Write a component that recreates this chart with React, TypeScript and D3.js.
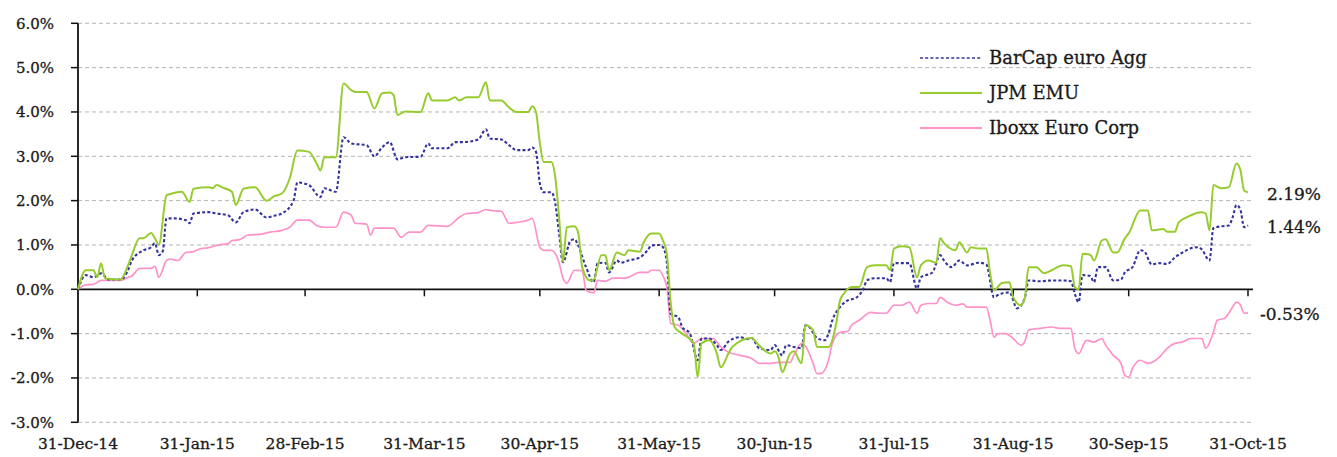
import React from "react";
import * as d3 from "d3";

const seriesNames = ["BarCap euro Agg", "JPM EMU", "Iboxx Euro Corp"];
const yTicks = [-3, -2, -1, 0, 1, 2, 3, 4, 5, 6];
const xTickDates = ["2014-12-31", "2015-01-31", "2015-02-28", "2015-03-31", "2015-04-30", "2015-05-31", "2015-06-30", "2015-07-31", "2015-08-31", "2015-09-30", "2015-10-31"];
const xTickLabels = ["31-Dec-14", "31-Jan-15", "28-Feb-15", "31-Mar-15", "30-Apr-15", "31-May-15", "30-Jun-15", "31-Jul-15", "31-Aug-15", "30-Sep-15", "31-Oct-15"];
const endLabels = ["1.44%", "2.19%", "-0.53%"];

const jpmEmu: [string, number][] = [
  ["2014-12-31",0],["2015-01-02",0.43],["2015-01-04",0.43],["2015-01-05",0.27],["2015-01-06",0.59],["2015-01-07",0.25],["2015-01-11",0.22],["2015-01-13",0.54],["2015-01-14",0.77],["2015-01-16",1.15],["2015-01-17",1.15],["2015-01-19",1.27],["2015-01-20",1.15],["2015-01-21",1.0],["2015-01-23",2.12],["2015-01-24",2.15],["2015-01-27",2.2],["2015-01-29",1.97],["2015-01-30",2.27],
  ["2015-02-03",2.3],["2015-02-04",2.28],["2015-02-05",2.35],["2015-02-07",2.28],["2015-02-09",2.2],["2015-02-10",1.9],["2015-02-12",2.27],["2015-02-15",2.3],["2015-02-18",2.0],["2015-02-20",2.1],["2015-02-22",2.16],["2015-02-24",2.5],["2015-02-26",3.13],
  ["2015-03-01",3.1],["2015-03-03",2.84],["2015-03-04",2.68],["2015-03-05",2.98],["2015-03-08",2.98],["2015-03-10",4.64],["2015-03-12",4.49],["2015-03-13",4.45],["2015-03-16",4.45],["2015-03-18",4.08],["2015-03-20",4.42],["2015-03-22",4.44],["2015-03-23",4.38],["2015-03-24",3.93],["2015-03-26",4.01],["2015-03-30",4.0],
  ["2015-04-01",4.42],["2015-04-02",4.26],["2015-04-06",4.26],["2015-04-08",4.33],["2015-04-09",4.26],["2015-04-11",4.33],["2015-04-14",4.33],["2015-04-16",4.67],["2015-04-17",4.26],["2015-04-20",4.26],["2015-04-22",4.1],["2015-04-24",4.0],["2015-04-27",4.0],["2015-04-28",4.13],["2015-04-29",4.0],["2015-04-30",3.3],
  ["2015-05-01",2.87],["2015-05-03",2.87],["2015-05-04",2.53],["2015-05-05",1.63],["2015-05-06",0.62],["2015-05-07",1.4],["2015-05-09",1.42],["2015-05-10",1.26],["2015-05-11",0.5],["2015-05-13",0.2],["2015-05-14",0.22],["2015-05-16",0.77],["2015-05-17",0.77],["2015-05-18",0.43],["2015-05-20",0.83],["2015-05-22",0.77],["2015-05-23",0.88],["2015-05-26",0.85],["2015-05-27",1.06],["2015-05-29",1.26],["2015-05-31",1.26],
  ["2015-06-01",1.1],["2015-06-02",0.8],["2015-06-03",-0.3],["2015-06-04",-0.85],["2015-06-06",-1.0],["2015-06-09",-1.22],["2015-06-10",-1.98],["2015-06-11",-1.22],["2015-06-13",-1.15],["2015-06-15",-1.45],["2015-06-16",-1.76],["2015-06-18",-1.45],["2015-06-19",-1.3],["2015-06-24",-1.1],["2015-06-26",-1.27],["2015-06-29",-1.45],["2015-06-30",-1.4],
  ["2015-07-01",-1.53],["2015-07-02",-1.87],["2015-07-04",-1.45],["2015-07-05",-1.4],["2015-07-07",-1.67],["2015-07-08",-0.81],["2015-07-10",-0.92],["2015-07-11",-1.3],["2015-07-14",-1.3],["2015-07-16",-0.77],["2015-07-17",-0.25],["2015-07-18",-0.1],["2015-07-20",0.05],["2015-07-22",0.05],["2015-07-24",0.5],["2015-07-26",0.54],["2015-07-29",0.54],["2015-07-30",0.43],["2015-07-31",0.92],
  ["2015-08-02",0.97],["2015-08-04",0.95],["2015-08-06",0.27],["2015-08-07",0.54],["2015-08-09",0.65],["2015-08-11",0.6],["2015-08-12",1.15],["2015-08-13",1.04],["2015-08-16",0.88],["2015-08-17",1.06],["2015-08-19",0.83],["2015-08-20",0.95],["2015-08-22",0.92],["2015-08-24",0.92],["2015-08-25",0.36],["2015-08-26",-0.02],["2015-08-28",0.14],["2015-08-30",0.16],["2015-08-31",-0.18],
  ["2015-09-02",-0.36],["2015-09-03",-0.2],["2015-09-04",0.5],["2015-09-06",0.5],["2015-09-08",0.36],["2015-09-10",0.43],["2015-09-13",0.54],["2015-09-15",0.52],["2015-09-16",0.05],["2015-09-17",0.0],["2015-09-18",0.8],["2015-09-20",0.78],["2015-09-21",0.65],["2015-09-23",1.1],["2015-09-24",1.13],["2015-09-26",0.83],["2015-09-27",0.83],["2015-09-29",1.15],["2015-09-30",1.26],
  ["2015-10-03",1.78],["2015-10-05",1.78],["2015-10-06",1.33],["2015-10-09",1.36],["2015-10-10",1.3],["2015-10-12",1.3],["2015-10-13",1.51],["2015-10-15",1.62],["2015-10-19",1.74],["2015-10-20",1.71],["2015-10-21",1.33],["2015-10-22",2.35],["2015-10-24",2.28],["2015-10-26",2.3],["2015-10-28",2.84],["2015-10-29",2.7],["2015-10-30",2.23],["2015-10-31",2.19]
];

const barcapEuroAgg: [string, number][] = [
  ["2014-12-31",0],["2015-01-02",0.32],["2015-01-04",0.27],["2015-01-06",0.36],["2015-01-08",0.22],["2015-01-11",0.22],["2015-01-13",0.43],["2015-01-14",0.65],["2015-01-17",0.88],["2015-01-19",0.95],["2015-01-20",1.04],["2015-01-21",0.77],["2015-01-22",0.85],["2015-01-23",1.6],["2015-01-25",1.6],["2015-01-28",1.56],["2015-01-29",1.49],["2015-01-30",1.71],
  ["2015-02-03",1.74],["2015-02-05",1.71],["2015-02-08",1.67],["2015-02-10",1.51],["2015-02-12",1.74],["2015-02-15",1.8],["2015-02-18",1.62],["2015-02-20",1.66],["2015-02-22",1.71],["2015-02-25",2.0],["2015-02-26",2.41],
  ["2015-03-01",2.35],["2015-03-04",2.08],["2015-03-05",2.28],["2015-03-08",2.2],["2015-03-10",3.43],["2015-03-12",3.29],["2015-03-16",3.25],["2015-03-18",3.0],["2015-03-20",3.2],["2015-03-22",3.32],["2015-03-24",2.93],["2015-03-26",2.98],["2015-03-30",2.99],
  ["2015-04-01",3.29],["2015-04-02",3.18],["2015-04-06",3.18],["2015-04-08",3.32],["2015-04-10",3.32],["2015-04-14",3.38],["2015-04-16",3.61],["2015-04-17",3.4],["2015-04-20",3.38],["2015-04-22",3.25],["2015-04-24",3.14],["2015-04-27",3.14],["2015-04-28",3.2],["2015-04-29",3.1],["2015-04-30",2.39],
  ["2015-05-01",2.19],["2015-05-03",2.19],["2015-05-04",1.94],["2015-05-05",1.26],["2015-05-06",0.61],["2015-05-08",1.1],["2015-05-09",1.13],["2015-05-10",0.98],["2015-05-12",0.5],["2015-05-14",0.16],["2015-05-15",0.59],["2015-05-17",0.6],["2015-05-18",0.38],["2015-05-20",0.65],["2015-05-21",0.6],["2015-05-23",0.65],["2015-05-26",0.72],["2015-05-28",0.88],["2015-05-29",0.99],["2015-05-31",1.0],
  ["2015-06-01",0.95],["2015-06-02",0.6],["2015-06-03",-0.55],["2015-06-05",-0.63],["2015-06-06",-0.85],["2015-06-08",-1.0],["2015-06-10",-1.6],["2015-06-11",-1.11],["2015-06-13",-1.11],["2015-06-15",-1.26],["2015-06-16",-1.37],["2015-06-18",-1.18],["2015-06-21",-1.08],["2015-06-23",-1.12],["2015-06-24",-1.1],["2015-06-26",-1.33],["2015-06-29",-1.37],["2015-06-30",-1.26],
  ["2015-07-02",-1.49],["2015-07-03",-1.26],["2015-07-05",-1.3],["2015-07-07",-1.33],["2015-07-08",-0.81],["2015-07-09",-0.85],["2015-07-11",-1.1],["2015-07-13",-1.15],["2015-07-14",-1.0],["2015-07-15",-0.7],["2015-07-17",-0.4],["2015-07-19",-0.25],["2015-07-21",-0.2],["2015-07-23",0.0],["2015-07-24",0.2],["2015-07-26",0.25],["2015-07-29",0.25],["2015-07-30",0.16],["2015-07-31",0.59],
  ["2015-08-04",0.59],["2015-08-06",0.02],["2015-08-07",0.27],["2015-08-10",0.38],["2015-08-12",0.77],["2015-08-13",0.65],["2015-08-15",0.5],["2015-08-17",0.65],["2015-08-19",0.54],["2015-08-22",0.6],["2015-08-24",0.56],["2015-08-26",-0.18],["2015-08-27",-0.13],["2015-08-30",-0.07],
  ["2015-09-01",-0.43],["2015-09-03",-0.2],["2015-09-04",0.2],["2015-09-07",0.18],["2015-09-10",0.2],["2015-09-13",0.2],["2015-09-15",0.18],["2015-09-16",-0.1],["2015-09-17",-0.29],["2015-09-18",0.32],["2015-09-20",0.3],["2015-09-21",0.16],["2015-09-22",0.5],["2015-09-24",0.5],["2015-09-26",0.2],["2015-09-28",0.22],["2015-09-29",0.38],
  ["2015-10-01",0.5],["2015-10-03",0.88],["2015-10-04",0.86],["2015-10-06",0.56],["2015-10-08",0.59],["2015-10-10",0.57],["2015-10-12",0.72],["2015-10-14",0.83],["2015-10-16",0.92],["2015-10-18",0.95],["2015-10-19",0.9],["2015-10-21",0.65],["2015-10-22",1.38],["2015-10-24",1.42],["2015-10-26",1.44],["2015-10-27",1.62],["2015-10-28",1.9],["2015-10-29",1.8],["2015-10-30",1.4],["2015-10-31",1.44]
];

const iboxxEuroCorp: [string, number][] = [
  ["2014-12-31",0],["2015-01-02",0.1],["2015-01-04",0.11],["2015-01-06",0.2],["2015-01-11",0.2],["2015-01-13",0.27],["2015-01-14",0.3],["2015-01-16",0.47],["2015-01-19",0.47],["2015-01-20",0.52],["2015-01-21",0.27],["2015-01-23",0.65],["2015-01-24",0.68],["2015-01-26",0.65],["2015-01-28",0.83],["2015-01-30",0.85],
  ["2015-02-01",0.92],["2015-02-03",0.94],["2015-02-05",0.99],["2015-02-08",1.03],["2015-02-09",1.1],["2015-02-11",1.12],["2015-02-13",1.22],["2015-02-17",1.25],["2015-02-19",1.29],["2015-02-22",1.33],["2015-02-24",1.4],["2015-02-26",1.56],
  ["2015-03-01",1.56],["2015-03-03",1.44],["2015-03-05",1.4],["2015-03-08",1.4],["2015-03-10",1.74],["2015-03-12",1.67],["2015-03-13",1.49],["2015-03-16",1.47],["2015-03-17",1.22],["2015-03-18",1.38],["2015-03-23",1.38],["2015-03-25",1.17],["2015-03-27",1.29],["2015-03-30",1.29],
  ["2015-04-01",1.44],["2015-04-06",1.42],["2015-04-09",1.62],["2015-04-11",1.71],["2015-04-14",1.73],["2015-04-16",1.8],["2015-04-17",1.78],["2015-04-20",1.76],["2015-04-22",1.49],["2015-04-24",1.51],["2015-04-27",1.56],["2015-04-28",1.6],["2015-04-30",0.95],
  ["2015-05-01",0.88],["2015-05-03",0.88],["2015-05-05",0.6],["2015-05-06",0.25],["2015-05-07",0.14],["2015-05-09",0.43],["2015-05-11",0.42],["2015-05-12",-0.02],["2015-05-14",-0.08],["2015-05-15",0.2],["2015-05-17",0.18],["2015-05-19",0.25],["2015-05-22",0.25],["2015-05-23",0.27],["2015-05-26",0.38],["2015-05-28",0.38],["2015-05-29",0.43],["2015-05-31",0.43],
  ["2015-06-01",0.3],["2015-06-02",0.05],["2015-06-03",-0.77],["2015-06-05",-0.81],["2015-06-07",-1.0],["2015-06-09",-1.22],["2015-06-11",-1.11],["2015-06-14",-1.11],["2015-06-16",-1.3],["2015-06-18",-1.42],["2015-06-21",-1.49],["2015-06-24",-1.56],["2015-06-26",-1.67],["2015-06-29",-1.67],
  ["2015-07-01",-1.65],["2015-07-04",-1.65],["2015-07-05",-1.49],["2015-07-07",-1.22],["2015-07-08",-1.28],["2015-07-10",-1.67],["2015-07-11",-1.9],["2015-07-12",-1.9],["2015-07-14",-1.6],["2015-07-15",-1.22],["2015-07-17",-0.97],["2015-07-19",-0.95],["2015-07-20",-0.81],["2015-07-22",-0.7],["2015-07-25",-0.52],["2015-07-27",-0.54],["2015-07-29",-0.54],["2015-07-31",-0.36],
  ["2015-08-02",-0.36],["2015-08-04",-0.29],["2015-08-06",-0.54],["2015-08-07",-0.36],["2015-08-09",-0.32],["2015-08-11",-0.32],["2015-08-12",-0.18],["2015-08-14",-0.3],["2015-08-16",-0.36],["2015-08-18",-0.33],["2015-08-19",-0.4],["2015-08-20",-0.4],["2015-08-24",-0.4],["2015-08-25",-0.7],["2015-08-26",-1.08],["2015-08-27",-1.0],["2015-08-29",-1.0],["2015-08-31",-1.11],
  ["2015-09-02",-1.26],["2015-09-03",-1.18],["2015-09-04",-0.92],["2015-09-07",-0.88],["2015-09-10",-0.85],["2015-09-12",-0.88],["2015-09-15",-0.88],["2015-09-16",-1.33],["2015-09-17",-1.45],["2015-09-19",-1.15],["2015-09-21",-1.19],["2015-09-23",-1.11],["2015-09-24",-1.26],["2015-09-26",-1.49],["2015-09-28",-1.67],["2015-09-29",-1.94],["2015-09-30",-1.98],
  ["2015-10-01",-1.78],["2015-10-03",-1.6],["2015-10-05",-1.67],["2015-10-08",-1.53],["2015-10-10",-1.33],["2015-10-12",-1.22],["2015-10-13",-1.2],["2015-10-14",-1.19],["2015-10-16",-1.11],["2015-10-19",-1.11],["2015-10-20",-1.33],["2015-10-22",-0.97],["2015-10-23",-0.7],["2015-10-25",-0.65],["2015-10-26",-0.54],["2015-10-27",-0.4],["2015-10-28",-0.29],["2015-10-29",-0.35],["2015-10-30",-0.54],["2015-10-31",-0.53]
];

const parse = d3.timeParse("%Y-%m-%d");
const FONT = "'DejaVu Serif', serif";
const TEXT = "#1a1a1a";

export default function App() {
  const W = 1337, H = 457;
  const x0 = 78, x1 = 1248, gridEnd = 1253;
  const x = d3.scaleTime()
    .domain([parse(xTickDates[0])!, parse(xTickDates[xTickDates.length - 1])!])
    .range([x0, x1]);
  const y = d3.scaleLinear().domain([-3, 6]).range([422.3, 23.3]);

  const line = d3.line<[string, number]>()
    .x((d) => x(parse(d[0])!))
    .y((d) => y(d[1]))
    .curve(d3.curveMonotoneX);

  const series = [
    { name: seriesNames[0], data: barcapEuroAgg, color: "#34349c", width: 2.1, dash: "3,2.2" },
    { name: seriesNames[1], data: jpmEmu, color: "#96cc2e", width: 2, dash: undefined },
    { name: seriesNames[2], data: iboxxEuroCorp, color: "#ff92c8", width: 1.7, dash: undefined },
  ];
  const drawOrder = [2, 0, 1];
  const legendYs = [58, 93, 128];
  const endLabelDx = [19, 19, 12];
  const endLabelY = [227, 194, 314];
  const textStyle = { stroke: TEXT, strokeWidth: 0.3 };

  return (
    <svg width={W} height={H} style={{ position: "absolute", left: 0, top: 0, background: "#fff" }}>
      <rect x={0} y={0} width={W} height={H} fill="#fff" />
      {yTicks.filter((t) => t !== 0).map((t) => (
        <line key={"g" + t} x1={x0} x2={gridEnd} y1={y(t)} y2={y(t)} stroke="#b4b4b4" strokeWidth={1} strokeDasharray="4,3" />
      ))}
      {yTicks.map((t) => (
        <g key={"yt" + t}>
          <line x1={x0 - 7} x2={x0} y1={y(t)} y2={y(t)} stroke="#111" strokeWidth={1.5} />
          <text x={54} y={y(t)} dy="0.35em" textAnchor="end" fontFamily={FONT} fontSize={15} fill={TEXT} style={textStyle}>
            {t.toFixed(1) + "%"}
          </text>
        </g>
      ))}
      <line x1={x0} x2={x0} y1={y(6)} y2={y(-3)} stroke="#111" strokeWidth={1.8} />
      <line x1={x0} x2={gridEnd} y1={y(0)} y2={y(0)} stroke="#111" strokeWidth={1.8} />
      {xTickDates.map((d, i) => (
        <g key={"xt" + d}>
          {i > 0 && (
            <line x1={x(parse(d)!)} x2={x(parse(d)!)} y1={y(0)} y2={y(0) + 7} stroke="#111" strokeWidth={1.5} />
          )}
          <text x={x(parse(d)!)} y={449} textAnchor="middle" fontFamily={FONT} fontSize={15.5} fill={TEXT} style={textStyle}>
            {xTickLabels[i]}
          </text>
        </g>
      ))}
      {drawOrder.map((i) => {
        const s = series[i];
        return (
          <path key={s.name} d={line(s.data) || ""} fill="none" stroke={s.color} strokeWidth={s.width}
            strokeDasharray={s.dash} strokeLinejoin="round" />
        );
      })}
      {series.map((s, i) => (
        <g key={"lg" + i}>
          <line x1={920} x2={982} y1={legendYs[i]} y2={legendYs[i]} stroke={s.color} strokeWidth={i === 0 ? 1.6 : 1.8} strokeDasharray={s.dash} />
          <text x={989} y={legendYs[i]} dy="0.35em" fontFamily={FONT} fontSize={18} fill={TEXT} style={textStyle}>
            {s.name}
          </text>
        </g>
      ))}
      {series.map((s, i) => (
        <text key={"el" + i} x={x1 + endLabelDx[i]} y={endLabelY[i]} dy="0.35em" fontFamily={FONT} fontSize={17} fill={TEXT} style={textStyle}>
          {endLabels[i]}
        </text>
      ))}
    </svg>
  );
}
